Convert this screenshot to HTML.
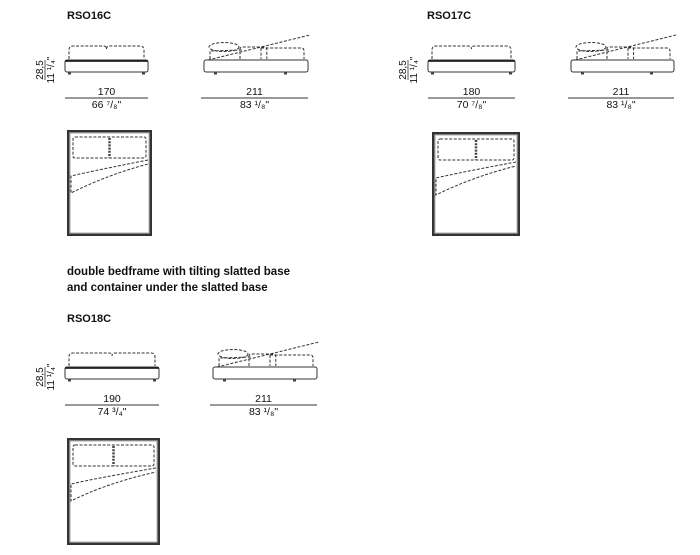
<!DOCTYPE html><html><head><meta charset="utf-8"><style>
html,body{margin:0;padding:0;background:#fff;width:700px;height:555px;overflow:hidden}
svg text{font-family:"Liberation Sans",Arial,sans-serif;fill:#111}
</style></head><body>
<svg id="s" width="700" height="555" xmlns="http://www.w3.org/2000/svg">
<text x="67" y="19" font-size="11" font-weight="bold">RSO16C</text>
<text x="427" y="19" font-size="11" font-weight="bold">RSO17C</text>
<text x="67" y="275" font-size="11.5" font-weight="bold">double bedframe with tilting slatted base</text>
<text x="67" y="291" font-size="11.5" font-weight="bold">and container under the slatted base</text>
<text x="67" y="322" font-size="11" font-weight="bold">RSO18C</text>
</svg>
<script>
(function(){
var s=document.getElementById('s'),h='';
var D='fill="none" stroke="#333" stroke-width="1" stroke-dasharray="3,1.6"';
function front(x1,x2,y,w,inch,hx){
 var m=(x1+x2)/2;
 h+='<path d="M'+(x1+4)+' '+(y-1)+' v-9 q0-4 4-4 h'+(m-x1-11)+' q3 0 3 3 q0-3 3-3 h'+(x2-m-11)+' q4 0 4 4 v9" '+D+'/>';
 h+='<rect x="'+x1+'" y="'+y+'" width="'+(x2-x1)+'" height="12" rx="2" fill="#fff" stroke="#333" stroke-width="1"/>';
 h+='<line x1="'+x1+'" y1="'+(y+1)+'" x2="'+x2+'" y2="'+(y+1)+'" stroke="#222" stroke-width="1.8"/>';
 h+='<rect x="'+(x1+3)+'" y="'+(y+12)+'" width="3" height="2.5" fill="#444"/><rect x="'+(x2-6)+'" y="'+(y+12)+'" width="3" height="2.5" fill="#444"/>';
 dim(x1,x2,y+38,w,inch);
 h+='<g transform="translate('+hx+','+(y+10)+') rotate(-90)"><text x="0" y="-2" font-size="10" text-anchor="middle">28,5</text><line x1="-10" y1="0" x2="10" y2="0" stroke="#333" stroke-width="0.8"/><text x="0" y="9" font-size="10" text-anchor="middle">11 ¹/₄"</text></g>';
}
function dim(x1,x2,y,w,inch){
 var m=(x1+x2)/2;
 h+='<text x="'+m+'" y="'+(y-3)+'" font-size="10.5" text-anchor="middle">'+w+'</text>';
 h+='<line x1="'+x1+'" y1="'+y+'" x2="'+x2+'" y2="'+y+'" stroke="#333" stroke-width="1"/>';
 h+='<text x="'+m+'" y="'+(y+10)+'" font-size="10.5" text-anchor="middle">'+inch+'</text>';
}
function side(x1,x2,y){
 var L=x2-x1;
 h+='<path d="M'+(x1+36)+' '+(y-1)+' v-10 q0-2 3-2 h'+(L*0.2)+' q3 0 3 3 v9" '+D+'/>';
 h+='<path d="M'+(x1+57)+' '+(y-12)+' h'+(L-64)+' q3 0 3 3 v8 M'+(x1+57)+' '+(y-12)+' v11" '+D+'/>';
 h+='<ellipse cx="'+(x1+20)+'" cy="'+(y-13)+'" rx="15" ry="4.5" '+D+'/>';
 h+='<path d="M'+(x1+6)+' '+(y-1)+' v-8 L'+(x1+38)+' '+(y-10)+'" '+D+'/>';
 h+='<line x1="'+(x1+4)+'" y1="'+(y)+'" x2="'+(x2+2)+'" y2="'+(y-25)+'" '+D+'/>';
 h+='<rect x="'+x1+'" y="'+y+'" width="'+L+'" height="12" rx="2" fill="#fff" stroke="#333" stroke-width="1"/>';
 h+='<rect x="'+(x1+10)+'" y="'+(y+12)+'" width="3" height="2.5" fill="#444"/><rect x="'+(x2-24)+'" y="'+(y+12)+'" width="3" height="2.5" fill="#444"/>';
 dim(x1-3,x2,y+38,'211','83 ¹/₈"');
}
function plan(x1,y1,x2,y2){
 var W=x2-x1,m=(x1+x2)/2;
 h+='<rect x="'+(x1+1.2)+'" y="'+(y1+1.2)+'" width="'+(W-2.4)+'" height="'+(y2-y1-2.4)+'" fill="#fff" stroke="#333" stroke-width="2.4"/>';
 h+='<rect x="'+(x1+3)+'" y="'+(y1+3)+'" width="'+(W-6)+'" height="'+(y2-y1-6)+'" fill="none" stroke="#888" stroke-width="0.7"/>';
 h+='<rect x="'+(x1+6)+'" y="'+(y1+7)+'" width="'+(W-12)+'" height="21" rx="2" '+D+'/>';
 h+='<line x1="'+m+'" y1="'+(y1+8)+'" x2="'+m+'" y2="'+(y1+28)+'" stroke="#444" stroke-width="2.5" stroke-dasharray="2,1.2"/>';
 h+='<path d="M'+(x2-4)+' '+(y1+30)+' Q'+(x1+30)+' '+(y1+40)+' '+(x1+4)+' '+(y1+46)+' v17 Q'+(x1+40)+' '+(y1+45)+' '+(x2-4)+' '+(y1+34)+'" '+D+'/>';
}
front(65,148,60,'170','66 ⁷/₈"',45);
side(204,308,60);
plan(67,130,152,236);
front(428,515,60,'180','70 ⁷/₈"',408);
side(571,674,60);
plan(432,132,520,236);
front(65,159,367,'190','74 ³/₄"',45);
side(213,317,367);
plan(67,438,160,545);
s.insertAdjacentHTML('beforeend',h);
})();
</script>
</body></html>
